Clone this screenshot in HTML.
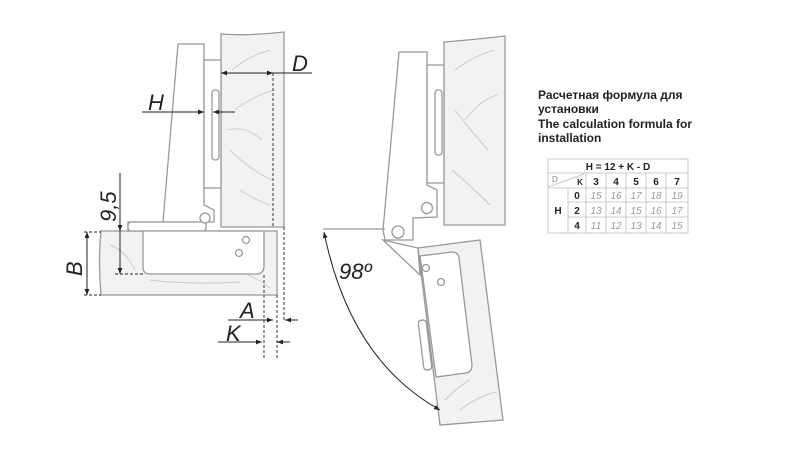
<!DOCTYPE html>
<html><head><meta charset="utf-8"><style>
html,body{margin:0;padding:0;background:#fff;width:800px;height:450px;overflow:hidden}
svg{display:block}
text{font-family:"Liberation Sans",sans-serif}
</style></head><body>
<svg width="800" height="450" viewBox="0 0 800 450" xmlns="http://www.w3.org/2000/svg">
<defs>
<marker id="ar" viewBox="0 0 10 10" refX="10" refY="5" markerWidth="6" markerHeight="6" orient="auto-start-reverse"><path d="M0,1 L10,5 L0,9 z" fill="#222"/></marker>
</defs>
<g stroke="#999" stroke-width="1.3" fill="#f2f2f2">
<path d="M221,34 Q250,36 284,32 L284,227 L221,227 Z"/>
<path d="M101,231 L277,231 L277,295 L101,295 Q98,262 101,231 Z"/>
</g>
<g stroke="#ccc" stroke-width="1" fill="none">
<path d="M232,70 Q250,55 270,50 M235,110 Q255,95 275,90 M230,150 Q250,170 272,180 M240,190 Q255,200 270,205 M228,130 Q245,125 262,140 M110,245 Q125,250 135,270 M150,280 Q190,285 240,282 M248,275 Q260,280 270,288"/>
</g>
<g stroke="#999" stroke-width="1.3" fill="#fff">
<path d="M178,44 L204,44 L204,205 L214,210 L214,222 L128,222 L128,231 L163,222 Z"/>
<rect x="204" y="60" width="17" height="128"/>
<rect x="212" y="90" width="7" height="70" rx="3"/>
<rect x="128" y="222" width="78" height="9" rx="3"/>
<circle cx="205" cy="218" r="5"/>
<path d="M143,231 L264,231 L264,266 Q264,274 256,274 L150,274 Q143,274 143,267 Z"/>
<circle cx="246" cy="240" r="3.5"/>
<circle cx="239" cy="253" r="3.5"/>
</g>
<g stroke="#222" stroke-width="1" fill="none">
<line x1="87" y1="232" x2="87" y2="295" marker-start="url(#ar)" marker-end="url(#ar)"/>
<line x1="120" y1="173" x2="120" y2="231" marker-end="url(#ar)"/>
<line x1="120" y1="231" x2="120" y2="274" marker-end="url(#ar)"/>
<line x1="142" y1="112" x2="204" y2="112" marker-end="url(#ar)"/>
<line x1="235" y1="112" x2="213" y2="112" marker-end="url(#ar)"/>
<line x1="221" y1="73" x2="273" y2="73" marker-start="url(#ar)" marker-end="url(#ar)"/>
<line x1="273" y1="73" x2="312" y2="73"/>
<line x1="228" y1="320" x2="273" y2="320" marker-end="url(#ar)"/>
<line x1="298" y1="320" x2="285" y2="320" marker-end="url(#ar)"/>
<line x1="218" y1="342" x2="262" y2="342" marker-end="url(#ar)"/>
<line x1="290" y1="342" x2="277" y2="342" marker-end="url(#ar)"/>
</g>
<g stroke="#222" stroke-width="0.9" stroke-dasharray="3,2" fill="none">
<line x1="84" y1="232" x2="101" y2="232"/><line x1="84" y1="295" x2="101" y2="295"/>
<line x1="115" y1="274" x2="143" y2="274"/>
<line x1="264" y1="275" x2="264" y2="360"/><line x1="277" y1="295" x2="277" y2="360"/>
<line x1="273" y1="73" x2="273" y2="227"/><line x1="284" y1="227" x2="284" y2="322"/>
</g>
<g font-style="italic" font-size="22" fill="#222">
<text x="148" y="110">H</text><text x="292" y="71">D</text>
<text x="240" y="318">A</text><text x="226" y="341">K</text>
<text transform="translate(82,276) rotate(-90)">B</text>
<text transform="translate(116,222) rotate(-90)">9,5</text>
<text x="339" y="279">98º</text>
</g>
<g stroke="#999" stroke-width="1.3" fill="#f2f2f2">
<path d="M444,42 Q470,40 505,36 L505,225 L444,225 Z"/>
<path d="M418,248 L480,240 L503,420 L440,425 Z"/>
</g>
<g stroke="#ccc" stroke-width="1" fill="none">
<path d="M455,70 Q475,55 495,50 M455,110 Q470,130 488,150 M452,170 Q470,185 490,205 M465,120 Q480,100 497,95 M460,410 Q480,395 497,392 M445,400 Q460,385 470,380"/>
</g>
<g stroke="#999" stroke-width="1.3" fill="#fff">
<path d="M399,52 L427,52 L427,185 L437,190 L437,217 L413,218 L413,240 L385,240 L383,230 Z"/>
<rect x="427" y="65" width="17" height="118"/>
<rect x="435" y="90" width="7" height="65" rx="3"/>
<circle cx="427" cy="208" r="5.5"/>
<circle cx="398" cy="232" r="6"/>
<path d="M383,240 L420,275 L418,248 Z" fill="#fff"/>
<path d="M420,256 L452,252 Q458,252 459,258 L472,365 Q472,372 466,373 L436,377 Z"/>
<rect x="421" y="320" width="8" height="50" rx="3" transform="rotate(-7 425 345)"/>
<circle cx="426" cy="268" r="3.5"/><circle cx="441" cy="282" r="3.5"/>
</g>
<g stroke="#222" stroke-width="1" fill="none">
<line x1="323" y1="229" x2="385" y2="229" stroke="#999" stroke-width="1.3"/>
<path d="M324,232 Q350,360 440,410" marker-start="url(#ar)" marker-end="url(#ar)"/>
</g>
<g font-weight="bold" font-size="12" fill="#222">
<text x="538" y="99">Расчетная формула для</text>
<text x="538" y="113">установки</text>
<text x="538" y="128">The calculation formula for</text>
<text x="538" y="142">installation</text>
</g>
<g stroke="#bbb" stroke-width="0.8" fill="none">
<rect x="548" y="159" width="140" height="74"/>
<line x1="548" y1="173" x2="688" y2="173"/>
<line x1="548" y1="188" x2="688" y2="188"/>
<line x1="568" y1="202" x2="688" y2="202"/>
<line x1="568" y1="217" x2="688" y2="217"/>
<line x1="568" y1="188" x2="568" y2="233"/>
<line x1="586" y1="173" x2="586" y2="233"/>
<line x1="606" y1="173" x2="606" y2="233"/>
<line x1="626" y1="173" x2="626" y2="233"/>
<line x1="646" y1="173" x2="646" y2="233"/>
<line x1="666" y1="173" x2="666" y2="233"/>
<line x1="548" y1="187" x2="584" y2="174"/>
</g>
<g font-size="10" font-weight="bold" fill="#222" text-anchor="middle">
<text x="618" y="170">H = 12 + K - D</text>
<text x="580" y="185" font-size="8">K</text>
<text x="596" y="185">3</text><text x="616" y="185">4</text><text x="636" y="185">5</text><text x="656" y="185">6</text><text x="677" y="185">7</text>
<text x="558" y="214">H</text>
<text x="577" y="199">0</text><text x="577" y="214">2</text><text x="577" y="229">4</text>
</g>
<text x="552" y="182" font-size="8" fill="#888">D</text>
<g font-size="10" font-style="italic" fill="#999" text-anchor="middle">
<text x="596" y="199">15</text><text x="616" y="199">16</text><text x="636" y="199">17</text><text x="656" y="199">18</text><text x="677" y="199">19</text>
<text x="596" y="214">13</text><text x="616" y="214">14</text><text x="636" y="214">15</text><text x="656" y="214">16</text><text x="677" y="214">17</text>
<text x="596" y="229">11</text><text x="616" y="229">12</text><text x="636" y="229">13</text><text x="656" y="229">14</text><text x="677" y="229">15</text>
</g>
</svg>
</body></html>
